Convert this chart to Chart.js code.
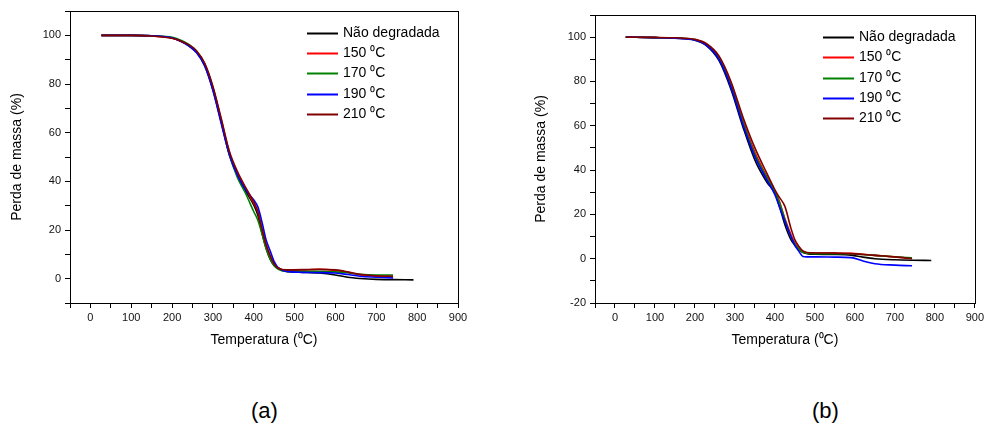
<!DOCTYPE html>
<html>
<head>
<meta charset="utf-8">
<script src="https://cdn.jsdelivr.net/npm/chart.js@4.4.1/dist/chart.umd.min.js"></script>
<style>
  body { margin: 0; background: #fff; width: 987px; height: 430px; position: relative; overflow: hidden;
         font-family: "Liberation Sans", Arial, sans-serif; }
  #chartA { position: absolute; left: 0; top: 0; }
  #chartB { position: absolute; left: 520px; top: 0; }
  .panel { position: absolute; top: 398px; font-size: 22px; line-height: 26px; color: #000; }
</style>
</head>
<body>
<canvas id="chartA" width="493" height="360"></canvas>
<canvas id="chartB" width="467" height="360"></canvas>
<div class="panel" style="left:251px">(a)</div>
<div class="panel" style="left:812px">(b)</div>
<script>
// legend labels and colours
const seriesNames = ['Não degradada', '150 ⁰C', '170 ⁰C', '190 ⁰C', '210 ⁰C'];
const seriesColors = ['#000000', '#ff0000', '#008000', '#0000ff', '#800000'];

// (a) temperatures (°C) - only the black curve runs to the last one
const tempA = [27, 100, 150, 200, 220, 240, 260, 280, 300, 320, 340, 360, 380, 400, 410, 420, 430, 440, 450, 460, 480, 520, 560, 600, 630, 660, 700, 741, 791];
const naoDegA = [100, 100, 99.8, 98.9, 97.7, 95.8, 93, 87.5, 77.5, 64.5, 51, 42.5, 36, 30.2, 26, 18.7, 12.5, 8, 5.3, 4.4, 3.0, 2.6, 2.3, 1.5, 0.6, 0.1, -0.3, -0.4, -0.5];
const t150A = [100, 100, 99.7, 98.8, 97.7, 96, 93.3, 88, 78.5, 65.5, 52, 43.5, 37, 31, 27.5, 20.5, 14, 9.6, 6.2, 4.4, 3.4, 3.6, 3.8, 3.4, 2.6, 1.5, 0.9, 0.7];
const t170A = [100, 100, 99.8, 99.2, 98.1, 96.4, 93.6, 88.2, 78.5, 65, 51, 41.5, 35, 27.5, 24, 18.5, 12.5, 8.2, 5.3, 3.9, 3.0, 3.0, 3.0, 2.8, 2.4, 1.8, 1.5, 1.5];
const t190A = [100, 100, 99.8, 99, 97.7, 95.8, 92.8, 87.3, 77.3, 64, 51, 42.5, 36.5, 32.3, 29.5, 23.3, 16, 11.5, 7, 4.5, 3.0, 2.6, 2.5, 2.3, 1.7, 1.0, 0.6, 0.3];
const t210A = [100, 100, 99.7, 98.8, 97.8, 96.2, 93.6, 88.5, 79, 66, 52.5, 44, 37.5, 31.5, 27.5, 20.5, 14, 9.5, 6, 4.3, 3.6, 3.7, 3.9, 3.6, 2.8, 1.8, 1.2, 1.0];

// (b)
const tempB = [27, 100, 150, 200, 230, 260, 290, 320, 350, 380, 400, 410, 425, 440, 450, 460, 470, 480, 500, 550, 590, 620, 650, 700, 743, 791];
const naoDegB = [100, 99.8, 99.5, 98.6, 96, 89.5, 76.5, 59.5, 44.5, 34.5, 29.6, 24.5, 15.3, 8.6, 6, 4.1, 2.8, 2.3, 2.0, 1.9, 1.6, 0.7, 0.0, -0.5, -0.7, -0.8];
const t150B = [100, 99.8, 99.6, 98.9, 96.6, 91, 79, 62.5, 48, 37, 30.5, 26.5, 18, 11, 7, 4.5, 3.0, 2.7, 2.6, 2.6, 2.4, 2.0, 1.5, 0.8, 0.1];
const t170B = [100, 99.8, 99.6, 98.8, 96.4, 90.5, 78, 61.5, 47, 36.5, 30, 26, 17.6, 10, 6.5, 4.3, 2.9, 2.5, 2.3, 2.3, 2.2, 1.9, 1.5, 0.9, 0.4];
const t190B = [100, 99.8, 99.5, 98.6, 96.2, 90, 77.5, 60.5, 46, 35.5, 28.9, 24, 16.8, 10, 6, 3.3, 1.0, 0.8, 0.8, 0.7, 0.5, -1.0, -2.3, -2.9, -3.2];
const t210B = [100, 99.9, 99.7, 99, 96.9, 91.5, 80, 64, 50, 38.5, 31.1, 28, 23.6, 13.8, 8.5, 5.5, 3.5, 2.8, 2.6, 2.5, 2.3, 1.9, 1.5, 0.8, 0.0];

Chart.defaults.font.family = '"Liberation Sans", Arial, sans-serif';

const toPoints = (temps, vals) => vals.map((v, i) => ({ x: temps[i], y: v }));

const buildDatasets = (temps, seriesList) => seriesList.map((vals, i) => ({
  label: seriesNames[i],
  data: toPoints(temps, vals),
  borderColor: seriesColors[i],
  backgroundColor: seriesColors[i],
  borderWidth: 1.6,
  pointRadius: 0,
  fill: false,
  cubicInterpolationMode: 'monotone',
  order: seriesList.length - i
}));

// legend drawn inside the plot, short line + label
const lineLegend = {
  id: 'lineLegend',
  afterDraw(chart, args, opts) {
    const ctx = chart.ctx;
    ctx.save();
    ctx.font = '14px "Liberation Sans", Arial, sans-serif';
    ctx.textBaseline = 'middle';
    chart.data.datasets.forEach((ds, i) => {
      const y = Math.round(opts.y + i * opts.gap) + 0.5;
      ctx.strokeStyle = ds.borderColor;
      ctx.lineWidth = 2;
      ctx.beginPath();
      ctx.moveTo(opts.x, y);
      ctx.lineTo(opts.x + 31, y);
      ctx.stroke();
      ctx.fillStyle = '#000';
      ctx.fillText(ds.label, opts.x + 36, y);
    });
    ctx.restore();
  }
};

// box around the plot area
const frame = {
  id: 'frame',
  afterDraw(chart) {
    const { left, top, right, bottom } = chart.chartArea;
    const ctx = chart.ctx;
    ctx.save();
    ctx.strokeStyle = '#000';
    ctx.lineWidth = 1;
    ctx.strokeRect(Math.round(left) + 0.5, Math.round(top) + 0.5, Math.round(right - left), Math.round(bottom - top));
    ctx.restore();
  }
};

function makeScales(yMin, yWidth, yTitlePad) {
  return {
    x: {
      type: 'linear', min: -50, max: 900,
      afterFit: s => { s.height = 48; },
      border: { display: true, color: '#000' },
      grid: { drawOnChartArea: false, drawTicks: true, tickLength: 5, color: '#000' },
      ticks: {
        stepSize: 50, autoSkip: false, maxRotation: 0, minRotation: 0, padding: 3,
        color: '#111', font: { size: 11 },
        callback: v => (v % 100 === 0 && v >= 0) ? String(v) : ''
      },
      title: { display: true, text: 'Temperatura (⁰C)', color: '#000', font: { size: 14 }, padding: { top: 0, bottom: 2 } }
    },
    y: {
      type: 'linear', min: yMin, max: 110,
      afterFit: s => { s.width = yWidth; },
      border: { display: true, color: '#000' },
      grid: { drawOnChartArea: false, drawTicks: true, tickLength: 5, color: '#000' },
      ticks: {
        stepSize: 10, autoSkip: false, padding: 4, color: '#111', font: { size: 11 },
        callback: v => (v % 20 === 0 && v <= 100) ? String(v) : ''
      },
      title: { display: true, text: 'Perda de massa (%)', color: '#000', font: { size: 14 }, padding: { top: yTitlePad, bottom: 0 } }
    }
  };
}

function makeChart(id, datasets, yMin, yWidth, yTitlePad, pad, legendPos) {
  return new Chart(document.getElementById(id), {
    type: 'line',
    data: { datasets },
    options: {
      responsive: false,
      animation: false,
      layout: { padding: pad },
      scales: makeScales(yMin, yWidth, yTitlePad),
      plugins: {
        legend: { display: false },
        tooltip: { enabled: false },
        lineLegend: legendPos
      }
    },
    plugins: [lineLegend, frame]
  });
}

makeChart('chartA', buildDatasets(tempA, [naoDegA, t150A, t170A, t190A, t210A]),
  -10, 70, 8.6, { left: 0, top: 11, right: 35, bottom: 9 }, { x: 307, y: 33, gap: 20.2 });

makeChart('chartB', buildDatasets(tempB, [naoDegB, t150B, t170B, t190B, t210B]),
  -20, 75, 13, { left: 0, top: 15, right: 10, bottom: 9 }, { x: 303, y: 37, gap: 20.25 });
</script>
</body>
</html>
